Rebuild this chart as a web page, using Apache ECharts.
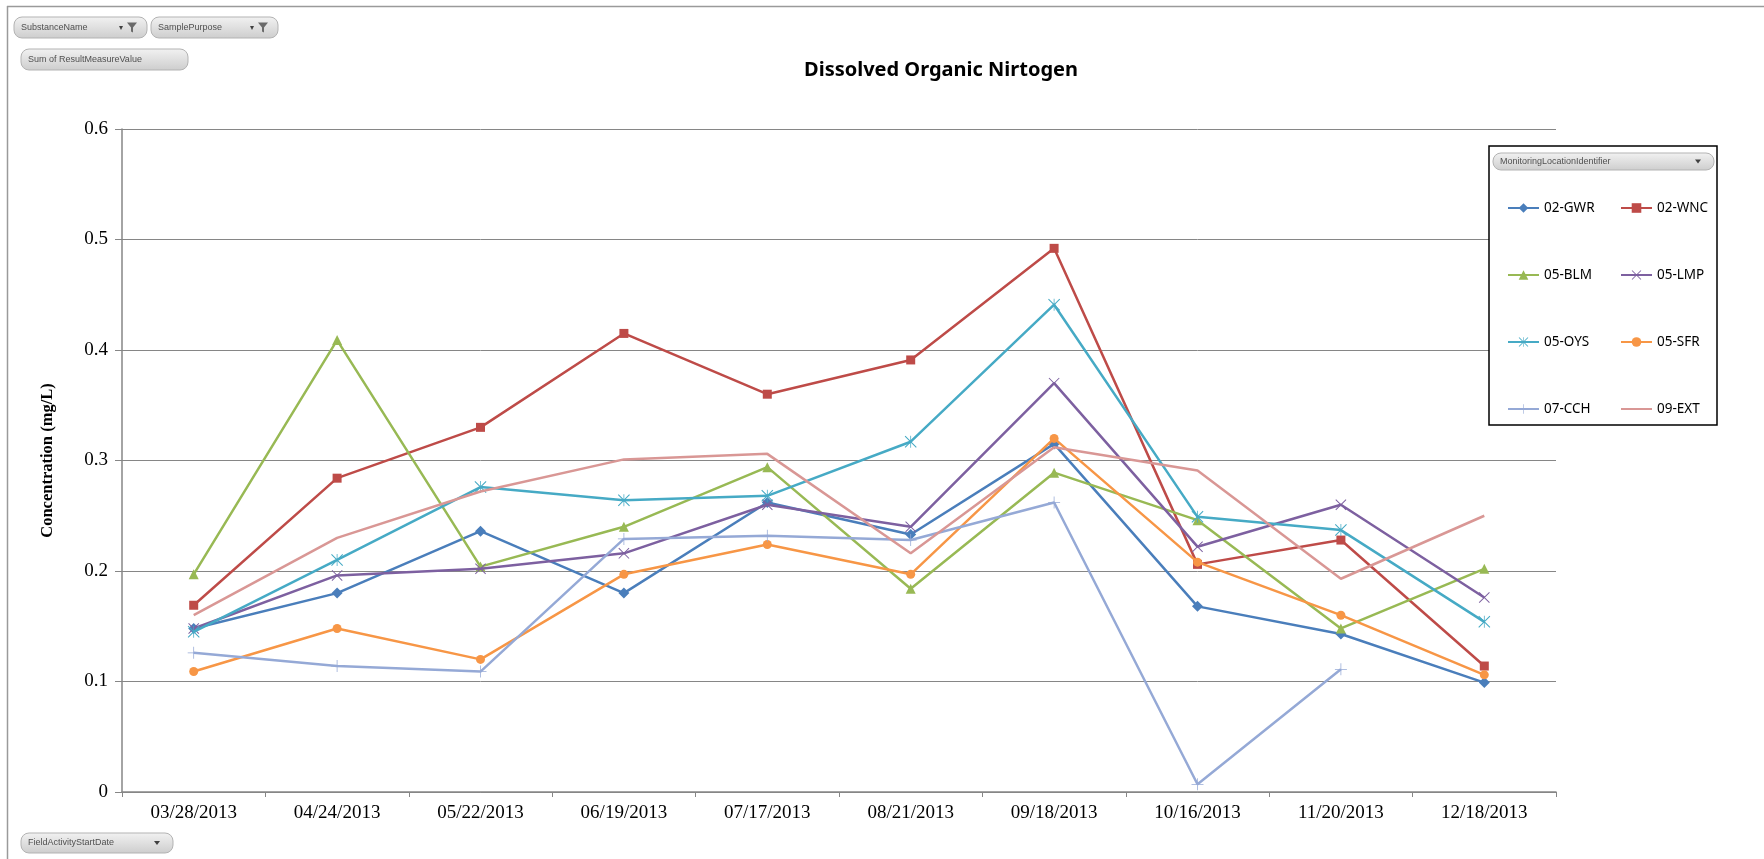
<!DOCTYPE html>
<html>
<head>
<meta charset="utf-8">
<script src="https://cdn.jsdelivr.net/npm/echarts@6/dist/echarts.min.js"></script>
<style>
html,body{margin:0;padding:0;background:#fff;}
#chart{width:1764px;height:859px;}
</style>
</head>
<body>
<div id="chart"></div>
<script>
const categories = ['03/28/2013','04/24/2013','05/22/2013','06/19/2013','07/17/2013','08/21/2013','09/18/2013','10/16/2013','11/20/2013','12/18/2013'];
const seriesNames = ['02-GWR','02-WNC','05-BLM','05-LMP','05-OYS','05-SFR','07-CCH','09-EXT'];
const gwr = [0.148,0.180,0.236,0.180,0.262,0.233,0.315,0.168,0.143,0.099];
const wnc = [0.169,0.284,0.330,0.415,0.360,0.391,0.492,0.206,0.228,0.114];
const blm = [0.197,0.409,0.204,0.240,0.294,0.184,0.289,0.246,0.148,0.202];
const lmp = [0.148,0.196,0.202,0.216,0.260,0.240,0.370,0.222,0.260,0.176];
const oys = [0.145,0.210,0.276,0.264,0.268,0.317,0.441,0.249,0.237,0.154];
const sfr = [0.109,0.148,0.120,0.197,0.224,0.197,0.320,0.208,0.160,0.106];
const cch = [0.126,0.114,0.109,0.229,0.232,0.228,0.262,0.007,0.111,null];
const ext = [0.160,0.230,0.272,0.301,0.306,0.216,0.312,0.291,0.193,0.250];
const yMin = 0, yMax = 0.6, yStep = 0.1;

const colors = ['#4A7EBB','#BE4B48','#98B954','#7D60A0','#46AAC5','#F79646','#95A9D6','#D99795'];
const X_PATH = 'path://M0,1.5 L1.5,0 L24,22.5 L22.5,24 Z M22.5,0 L24,1.5 L1.5,24 L0,22.5 Z';
const STAR_PATH = 'path://M0,1.5 L1.5,0 L24,22.5 L22.5,24 Z M22.5,0 L24,1.5 L1.5,24 L0,22.5 Z M11.25,0 L12.75,0 L12.75,24 L11.25,24 Z';
const PLUS_PATH = 'path://M11.25,0 L12.75,0 L12.75,24 L11.25,24 Z M0,11.25 L24,11.25 L24,12.75 L0,12.75 Z';
const symbols = [['diamond',11],['rect',9],['triangle',10],[X_PATH,11],[STAR_PATH,12],['circle',9],[PLUS_PATH,12],['circle',0]];
const dataSets = [gwr,wnc,blm,lmp,oys,sfr,cch,ext];

const chart = echarts.init(document.getElementById('chart'), null, {renderer:'canvas'});

function button(x,y,w,h,label,icon){
  const els = [{
    type:'rect', z:10, shape:{x:x,y:y,width:w,height:h,r:8},
    style:{fill:new echarts.graphic.LinearGradient(0,0,0,1,[{offset:0,color:'#f2f2f2'},{offset:1,color:'#cdcdcd'}]),stroke:'#b3b3b3',lineWidth:1}
  },{
    type:'text', z:11, style:{text:label,x:x+7,y:y+h/2,textVerticalAlign:'middle',fill:'#505050',font:'9px "Liberation Sans", Arial'}
  }];
  if(icon==='filter'){
    els.push({type:'polygon',z:11,shape:{points:[[x+w-20,y+h/2-5],[x+w-10,y+h/2-5],[x+w-14,y+h/2],[x+w-14,y+h/2+5],[x+w-16,y+h/2+4],[x+w-16,y+h/2]]},style:{fill:'#6a6a6a'}});
    els.push({type:'text',z:11,style:{text:'▾',x:x+w-28,y:y+h/2,textVerticalAlign:'middle',fill:'#404040',font:'8px "DejaVu Sans"'}});
  } else if(icon==='drop'){
    els.push({type:'polygon',z:11,shape:{points:[[x+w-19,y+h/2-2],[x+w-13,y+h/2-2],[x+w-16,y+h/2+2]]},style:{fill:'#404040'}});
  }
  return els;
}

let graphics = [];
graphics.push({type:'line',z:1,shape:{x1:7,y1:6.5,x2:1764,y2:6.5},style:{stroke:'#9a9a9a',lineWidth:1.5}});
graphics.push({type:'line',z:1,shape:{x1:7.5,y1:6,x2:7.5,y2:859},style:{stroke:'#9a9a9a',lineWidth:1.5}});
graphics = graphics.concat(button(14,17,133,21,'SubstanceName','filter'));
graphics = graphics.concat(button(151,17,127,21,'SamplePurpose','filter'));
graphics = graphics.concat(button(21,49,167,21,'Sum of ResultMeasureValue',null));
graphics = graphics.concat(button(21,833,152,20,'FieldActivityStartDate','drop'));
graphics.push({type:'rect',z:3,shape:{x:1489,y:146,width:228,height:279},style:{fill:'#ffffff',stroke:'#000000',lineWidth:1.5}});
graphics = graphics.concat(button(1493,153,221,17,'MonitoringLocationIdentifier','drop').map(e=>{e.z+=2;return e;}));

const series = seriesNames.map((name,i)=>({
  name:name,
  type:'line',
  data:dataSets[i],
  symbol:symbols[i][0],
  symbolSize:symbols[i][1],
  showSymbol: symbols[i][1] > 0,
  connectNulls:false,
  lineStyle:{width:2.5,color:colors[i]},
  itemStyle:{color:colors[i]},
  emphasis:{disabled:true},
  z:2+i*0.01
}));

const legendCommon = {
  orient:'vertical', itemWidth:31, itemHeight:12, itemGap:53,
  textStyle:{fontFamily:'"Noto Sans", "Liberation Sans", Arial',fontSize:13.5,color:'#000'},
  selectedMode:false, z:6
};

chart.setOption({
  animation:false,
  backgroundColor:'#ffffff',
  color:colors,
  title:{
    text:'Dissolved Organic Nirtogen', left:936, top:55, textAlign:'center',
    textStyle:{fontFamily:'"Noto Sans", "Open Sans", Arial',fontWeight:'bold',fontSize:20,color:'#000'}
  },
  legend:[
    Object.assign({left:1502,top:196,data:['02-GWR','05-BLM','05-OYS','07-CCH']},legendCommon),
    Object.assign({left:1615,top:196,data:['02-WNC','05-LMP','05-SFR',{name:'09-EXT',itemStyle:{opacity:0}}]},legendCommon)
  ],
  grid:{left:122,top:129,right:208,bottom:67,containLabel:false},
  xAxis:{
    type:'category', data:categories, boundaryGap:true,
    axisLine:{lineStyle:{color:'#868686',width:1.5}},
    axisTick:{show:true,length:5,lineStyle:{color:'#868686'}},
    axisLabel:{margin:12,color:'#000',fontFamily:'"Liberation Serif","Times New Roman",serif',fontSize:19},
    splitLine:{show:false}
  },
  yAxis:{
    type:'value', min:yMin, max:yMax, interval:yStep,
    name:'Concentration (mg/L)', nameLocation:'middle', nameGap:66, nameRotate:90,
    nameTextStyle:{fontFamily:'"Liberation Serif","Times New Roman",serif',fontWeight:'bold',fontSize:16.5,color:'#000'},
    axisLine:{show:true,lineStyle:{color:'#868686',width:1.5}},
    axisTick:{show:true,length:7,lineStyle:{color:'#868686'}},
    axisLabel:{margin:14,color:'#000',fontFamily:'"Liberation Serif","Times New Roman",serif',fontSize:19},
    splitLine:{show:true,lineStyle:{color:'#868686',width:1}}
  },
  graphic:{elements:graphics},
  series:series
});
</script>
</body>
</html>
